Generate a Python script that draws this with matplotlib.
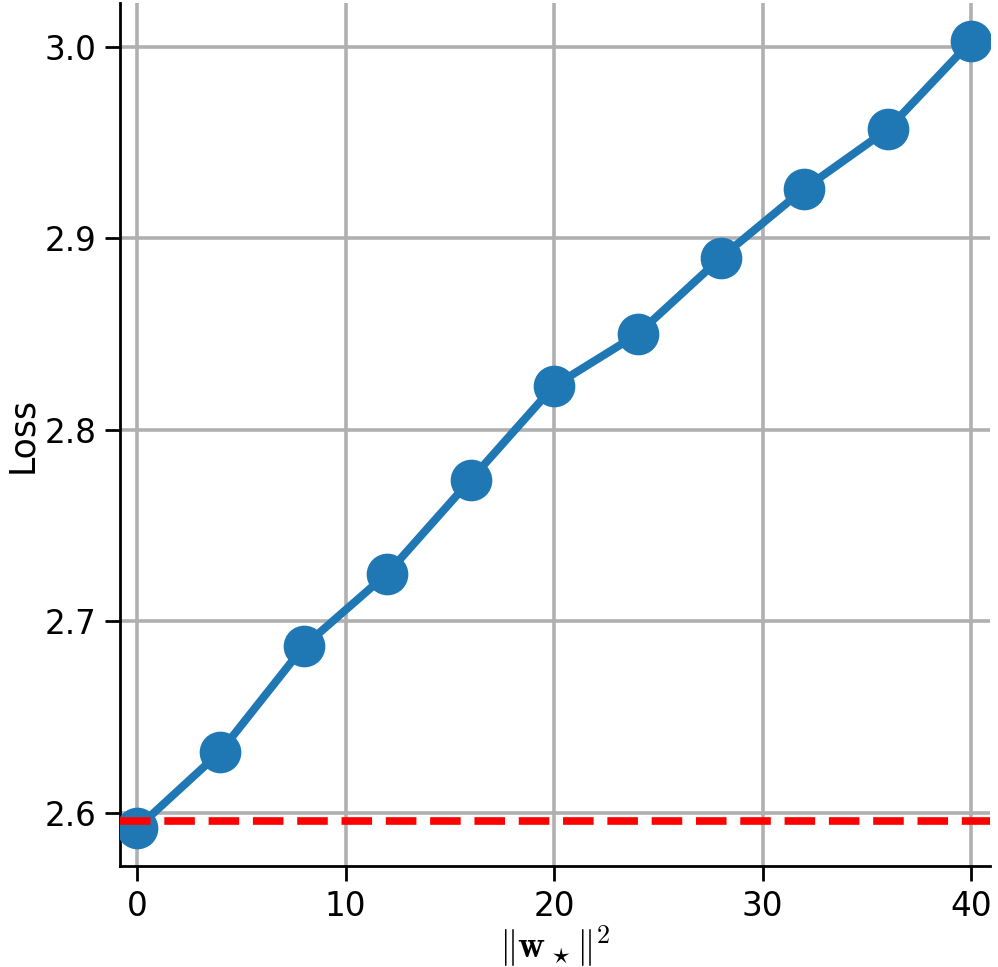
import matplotlib
matplotlib.use("Agg")
import matplotlib.pyplot as plt

x_vals = [0, 4, 8, 12, 16, 20, 24, 28, 32, 36, 40]
loss_vals = [2.592, 2.632, 2.687, 2.725, 2.774, 2.823, 2.850, 2.890, 2.926, 2.957, 3.003]
baseline = 2.596
x_ticks = [0, 10, 20, 30, 40]
y_ticks = [2.6, 2.7, 2.8, 2.9, 3.0]

plt.rcParams['mathtext.fontset'] = 'cm'
fig = plt.figure(figsize=(9.98, 9.67), dpi=100)
ax = fig.add_axes([0.1202, 0.1044, 0.872, 0.8926])

ax.grid(True, color='#b0b0b0', linewidth=2.6, zorder=0)
ax.set_axisbelow(True)
ax.plot(x_vals, loss_vals, color='#1f77b4', linewidth=5.8, marker='o', markersize=29, zorder=3)
ax.axhline(baseline, color='red', linestyle='--', linewidth=5.5, dashes=(4, 1.8), zorder=4)

ax.set_xlim(-0.815, 40.91)
ax.set_ylim(2.5723, 3.023)
ax.set_xticks(x_ticks)
ax.set_yticks(y_ticks)
ax.set_yticklabels([f"{v:.1f}" for v in y_ticks])
ax.tick_params(axis='both', labelsize=23.5, length=11, width=2, direction='out', pad=6)
for s in ['top', 'right']:
    ax.spines[s].set_visible(False)
for s in ['left', 'bottom']:
    ax.spines[s].set_linewidth(2)
ax.set_xlabel(r'$\|\mathbf{w}_\star\|^2$', fontsize=27, labelpad=0)
ax.set_ylabel('Loss', fontsize=25, labelpad=4)

fig.savefig('out.png', dpi=100)
